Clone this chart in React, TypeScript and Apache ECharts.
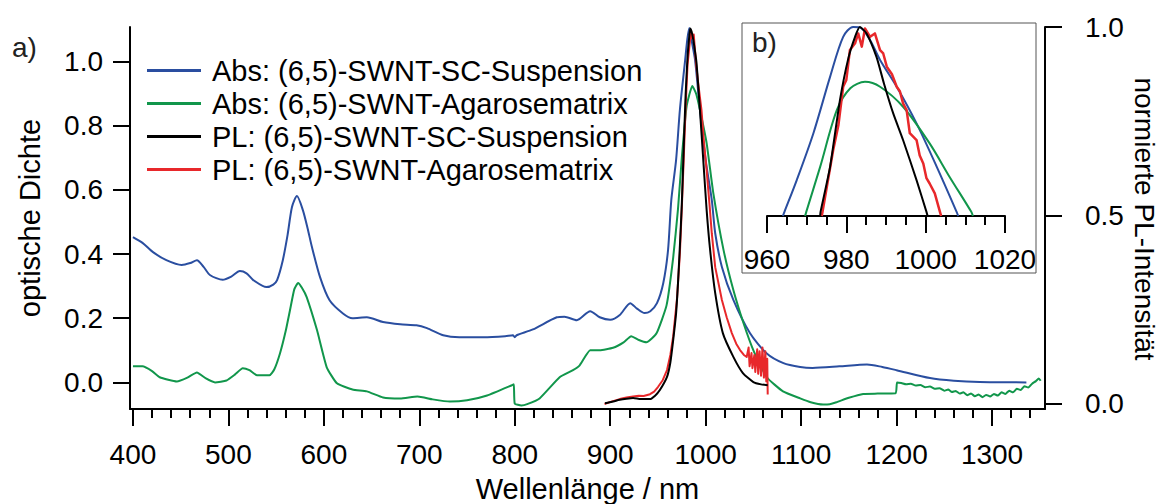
import React, { useEffect, useRef } from 'react';
import * as echarts from 'echarts';

const FONT = '"Liberation Sans", Arial, Helvetica, sans-serif';

const NAME_ABS_SC = 'Abs: (6,5)-SWNT-SC-Suspension';
const NAME_ABS_AG = 'Abs: (6,5)-SWNT-Agarosematrix';
const NAME_PL_SC = 'PL: (6,5)-SWNT-SC-Suspension';
const NAME_PL_AG = 'PL: (6,5)-SWNT-Agarosematrix';
const TITLE_RIGHT = 'normierte PL-Intensität';

const COLOR_BLUE = '#2a4ea0';
const COLOR_GREEN = '#11964b';
const COLOR_BLACK = '#000000';
const COLOR_RED = '#e8282b';

// tick positions / labels
const xMajorTicks = [400, 500, 600, 700, 800, 900, 1000, 1100, 1200, 1300];
const xMinorTicks = [
  420, 440, 460, 480, 520, 540, 560, 580, 620, 640, 660, 680, 720, 740, 760, 780,
  820, 840, 860, 880, 920, 940, 960, 980, 1020, 1040, 1060, 1080, 1120, 1140, 1160, 1180,
  1220, 1240, 1260, 1280, 1320, 1340,
];
const yLeftTicks = [0, 0.2, 0.4, 0.6, 0.8, 1.0];
const yRightTicks = [0, 0.5, 1.0];

// main plot: absorbance (optische Dichte)
const absSC: [number, number][] = [
  [400, 0.453], [410, 0.435], [421, 0.406], [435, 0.381], [451, 0.366], [460, 0.372], [467, 0.381],
  [474, 0.36], [481, 0.334], [494, 0.32], [503, 0.33], [512, 0.347], [519, 0.34], [526, 0.319],
  [540, 0.297], [547, 0.305], [551, 0.319], [557, 0.381], [562, 0.46], [566.6, 0.547], [571.8, 0.581],
  [578, 0.537], [583, 0.48], [587.5, 0.422], [596, 0.328], [606, 0.256], [620, 0.215], [630, 0.2],
  [645, 0.203], [662, 0.188], [680, 0.181], [697, 0.178], [708, 0.169], [725, 0.147], [742, 0.141],
  [767, 0.141], [790, 0.144], [798, 0.147], [800, 0.141], [802, 0.147], [819, 0.165], [844, 0.203],
  [852, 0.205], [865, 0.194], [879, 0.222], [889, 0.203], [900, 0.195], [910, 0.21], [921, 0.247],
  [928, 0.23], [936, 0.216], [942, 0.222], [949, 0.247], [955.6, 0.31], [960.6, 0.413], [964, 0.569],
  [969, 0.693], [973, 0.85], [978.5, 1.005], [980.8, 1.07], [982.9, 1.105], [985, 1.07], [988.9, 1.005],
  [994, 0.85], [1000, 0.693], [1006.4, 0.569], [1010, 0.465], [1017, 0.36], [1029, 0.257],
  [1046.5, 0.153], [1064, 0.09], [1081.5, 0.06], [1099, 0.048], [1112, 0.045], [1140, 0.05],
  [1169, 0.056], [1185, 0.048], [1200, 0.038], [1235, 0.0135], [1260, 0.005], [1287, 0.001], [1336, 0],
];

const absAgarose: [number, number][] = [
  [400, 0.05], [410, 0.05], [420, 0.035], [428, 0.016], [446, 0.003], [457, 0.015], [467, 0.031],
  [476, 0.013], [486, 0.0], [498, 0.006], [507, 0.025], [515, 0.044], [522, 0.038], [530, 0.022],
  [543, 0.022], [548, 0.04], [554, 0.09], [560, 0.16], [564.5, 0.225], [569, 0.29], [573, 0.31],
  [577, 0.295], [582, 0.266], [592.8, 0.163], [603, 0.047], [613.7, -0.003], [630, -0.022],
  [645, -0.028], [662, -0.047], [680, -0.05], [698, -0.044], [714, -0.053], [732, -0.06], [750, -0.056],
  [771, -0.041], [797, -0.009], [799, -0.006], [800, -0.066], [807, -0.072], [813, -0.068], [826, -0.05],
  [847, 0.016], [861, 0.038], [868, 0.053], [879, 0.1], [889, 0.1], [903, 0.108], [914, 0.125],
  [922, 0.144], [930, 0.132], [938, 0.125], [948.5, 0.153], [959, 0.24], [966, 0.39], [971, 0.54],
  [975, 0.7], [980, 0.86], [986, 0.924], [990, 0.9], [994, 0.85], [1001, 0.746], [1008, 0.59],
  [1018.7, 0.413], [1029, 0.288], [1039.6, 0.185], [1050, 0.1], [1064, 0.016], [1081, -0.028],
  [1099, -0.05], [1110, -0.062], [1123, -0.069], [1130, -0.068], [1137, -0.062], [1150, -0.048],
  [1165, -0.036], [1180, -0.035], [1199, -0.034], [1200.5, 0.0], [1205, -0.002], [1210, -0.006],
  [1215, -0.004], [1220, -0.01], [1225, -0.008], [1230, -0.015], [1235, -0.013], [1240, -0.02],
  [1245, -0.018], [1250, -0.026], [1254, -0.022], [1258, -0.03], [1262, -0.027], [1266, -0.035],
  [1270, -0.031], [1274, -0.04], [1278, -0.035], [1282, -0.043], [1286, -0.038], [1290, -0.046],
  [1294, -0.039], [1298, -0.044], [1302, -0.036], [1306, -0.041], [1310, -0.031], [1314, -0.036],
  [1318, -0.026], [1322, -0.031], [1326, -0.02], [1330, -0.024], [1334, -0.012], [1338, -0.016],
  [1342, -0.004], [1346, 0.004], [1349, 0.012], [1351, 0.005],
];

// main plot: photoluminescence (normierte PL-Intensität)
const plSC: [number, number][] = [
  [894.5, 0.002], [902, 0.006], [910, 0.011], [917, 0.014], [924, 0.016], [932, 0.013], [941.7, 0.013],
  [947, 0.022], [952, 0.037], [959.5, 0.072], [963, 0.11], [966, 0.17], [969, 0.24], [971, 0.32],
  [973, 0.42], [975, 0.53], [977, 0.68], [979, 0.82], [981, 0.92], [983, 0.98], [984, 0.996],
  [986, 0.98], [988, 0.95], [990.4, 0.905], [994, 0.78], [997.5, 0.647], [1001, 0.515], [1004.6, 0.41],
  [1010, 0.294], [1018, 0.188], [1029, 0.125], [1039, 0.082], [1050, 0.058], [1058, 0.052], [1065, 0.05],
];

const plAgarose: [number, number][] = [
  [894, 0.0], [902, 0.007], [910, 0.013], [917, 0.017], [924, 0.02], [930, 0.022], [935, 0.021],
  [941.7, 0.026], [946, 0.033], [950, 0.045], [955, 0.063], [959.5, 0.09], [963, 0.13], [966, 0.18],
  [970, 0.28], [973, 0.4], [975, 0.52], [977, 0.65], [979.2, 0.8], [981, 0.9], [983, 0.95],
  [984.7, 0.99], [986, 0.97], [987.5, 0.98], [990, 0.9], [992.7, 0.84], [995.6, 0.78], [998, 0.7],
  [1001, 0.62], [1004, 0.53], [1006.4, 0.453], [1010, 0.363], [1017, 0.276], [1022, 0.23],
  [1027.4, 0.188], [1032, 0.16], [1036, 0.143], [1040, 0.13], [1043, 0.125], [1045, 0.15], [1046, 0.1],
  [1048, 0.135], [1049, 0.095], [1051, 0.13], [1052, 0.085], [1054, 0.145], [1055, 0.08],
  [1056.5, 0.14], [1058, 0.075], [1059.5, 0.15], [1061, 0.07], [1062.5, 0.14], [1063.5, 0.06],
  [1064.5, 0.12], [1065, 0.025],
];

// inset b): normalised spectra around the E11 peak
const insetAbsSC: [number, number][] = [
  [964, 0.5], [964.4, 0.511], [967.5, 0.595], [971.7, 0.719], [975.9, 0.868], [979.2, 0.974],
  [981.7, 1.0], [983.4, 0.999], [986, 0.965], [988.5, 0.913], [992.7, 0.842], [997.7, 0.745],
  [1002.8, 0.63], [1007.8, 0.511], [1008.2, 0.5],
];
const insetAbsAgarose: [number, number][] = [
  [969.6, 0.5], [969.9, 0.511], [973.4, 0.63], [977.6, 0.78], [981, 0.838], [984.7, 0.855],
  [988.5, 0.842], [994.3, 0.789], [1001, 0.692], [1006, 0.604], [1011.5, 0.511], [1011.9, 0.5],
];
const insetPlSC: [number, number][] = [
  [973.4, 0.5], [973.5, 0.511], [975.9, 0.63], [978.4, 0.807], [980.5, 0.917], [982.2, 0.974],
  [983.4, 1.0], [985.1, 0.983], [987.6, 0.921], [989.5, 0.85], [991.8, 0.772], [994.3, 0.701],
  [997.7, 0.595], [1000.2, 0.511], [1000.5, 0.5],
];
const insetPlAgarose: [number, number][] = [
  [973.8, 0.5], [974, 0.511], [976.7, 0.675], [978, 0.74], [979.2, 0.842], [980, 0.86], [980.9, 0.939],
  [982.2, 0.957], [983, 0.983], [983.9, 0.948], [984.7, 0.996], [986, 0.974], [987.2, 0.983],
  [988.5, 0.939], [989.3, 0.93], [990.2, 0.895], [991.5, 0.875], [992.7, 0.842], [993.5, 0.83],
  [994.3, 0.798], [995.2, 0.78], [996, 0.719], [997.7, 0.701], [998.5, 0.66], [999.4, 0.639],
  [1000.2, 0.6], [1001, 0.586], [1002.3, 0.56], [1003.6, 0.511], [1003.9, 0.5],
];

const axisLineStyle = { color: '#000', width: 2 };
const labelStyle = { color: '#000', fontSize: 28, fontFamily: FONT };
const titleStyle = { color: '#000', fontSize: 29, fontFamily: FONT };

function lineSeries(name: string, data: [number, number][], color: string, xIdx: number, yIdx: number, smooth: number | boolean, width = 2) {
  return {
    type: 'line',
    name,
    data,
    xAxisIndex: xIdx,
    yAxisIndex: yIdx,
    showSymbol: false,
    symbol: 'none',
    smooth,
    clip: true,
    color,
    lineStyle: { color, width, join: 'round' },
  };
}

export default function App() {
  const ref = useRef<HTMLDivElement>(null);
  useEffect(() => {
    const chart = echarts.init(ref.current!, null, { renderer: 'svg' });
    const option = {
      animation: false,
      backgroundColor: '#ffffff',
      textStyle: { fontFamily: FONT },
      legend: {
        show: true,
        left: 147,
        top: 56,
        orient: 'vertical',
        padding: 0,
        itemGap: 4,
        itemWidth: 54,
        itemHeight: 3,
        icon: 'rect',
        data: [NAME_ABS_SC, NAME_ABS_AG, NAME_PL_SC, NAME_PL_AG],
        textStyle: { color: '#000', fontSize: 29, fontFamily: FONT, padding: [0, 0, 0, 6] },
      },
      grid: [
        { left: 130, top: 27, width: 915, height: 382, outerBoundsMode: 'none', containLabel: false },
        { left: 130, top: 27, width: 915, height: 382, outerBoundsMode: 'none', containLabel: false },
        { left: 767, top: 27, width: 238, height: 189, outerBoundsMode: 'none', containLabel: false },
      ],
      xAxis: [
        {
          type: 'value', gridIndex: 0, min: 396.9, max: 1355.5, position: 'bottom',
          axisLine: { show: true, onZero: false, lineStyle: axisLineStyle },
          axisTick: { show: true, length: 17, customValues: xMajorTicks, lineStyle: axisLineStyle },
          axisLabel: { ...labelStyle, margin: 31, customValues: xMajorTicks, formatter: (v: number) => String(v) },
          splitLine: { show: false },
          name: 'Wellenlänge / nm', nameLocation: 'middle', nameGap: 65,
          nameTextStyle: { ...titleStyle },
        },
        {
          type: 'value', gridIndex: 1, min: 396.9, max: 1355.5, position: 'bottom',
          axisLine: { show: false, onZero: false },
          axisTick: { show: true, length: 9, customValues: xMinorTicks, lineStyle: axisLineStyle },
          axisLabel: { show: false },
          splitLine: { show: false },
        },
        {
          type: 'value', gridIndex: 2, min: 960, max: 1020, interval: 20, position: 'bottom',
          axisLine: { show: true, onZero: false, lineStyle: axisLineStyle },
          axisTick: { show: true, length: 17, lineStyle: axisLineStyle },
          minorTick: { show: true, splitNumber: 4, length: 9, lineStyle: axisLineStyle },
          axisLabel: { ...labelStyle, margin: 29, formatter: (v: number) => String(v) },
          splitLine: { show: false },
          minorSplitLine: { show: false },
        },
      ],
      yAxis: [
        {
          type: 'value', gridIndex: 0, position: 'left', min: -0.083, max: 1.108,
          axisLine: { show: true, onZero: false, lineStyle: axisLineStyle },
          axisTick: { show: true, length: 17, customValues: yLeftTicks, lineStyle: axisLineStyle },
          axisLabel: { ...labelStyle, margin: 27, customValues: yLeftTicks, formatter: (v: number) => v.toFixed(1) },
          splitLine: { show: false },
          name: 'optische Dichte', nameLocation: 'middle', nameGap: 86,
          nameTextStyle: { ...titleStyle },
        },
        {
          type: 'value', gridIndex: 0, position: 'right', min: -0.0133, max: 1.0,
          axisLine: { show: true, onZero: false, lineStyle: axisLineStyle },
          axisTick: { show: true, length: 17, customValues: yRightTicks, lineStyle: axisLineStyle },
          axisLabel: { ...labelStyle, margin: 40, customValues: yRightTicks, formatter: (v: number) => v.toFixed(1) },
          splitLine: { show: false },
        },
        { type: 'value', gridIndex: 1, min: 0, max: 1, show: false },
        { type: 'value', gridIndex: 2, min: 0.5, max: 1.0, show: false },
      ],
      graphic: [
        {
          type: 'rect', z: 10, silent: true,
          shape: { x: 742, y: 23, width: 294, height: 250 },
          style: { fill: 'none', stroke: '#555', lineWidth: 1 },
        },
        {
          type: 'text', x: 12, y: 47.5, z: 10,
          style: { text: 'a)', fill: '#222', fontSize: 28, fontFamily: FONT, align: 'left', verticalAlign: 'middle' },
        },
        {
          type: 'text', x: 752, y: 42, z: 10,
          style: { text: 'b)', fill: '#222', fontSize: 28, fontFamily: FONT, align: 'left', verticalAlign: 'middle' },
        },
        {
          type: 'text', x: 1144, y: 219, z: 10, rotation: -Math.PI / 2,
          style: { text: TITLE_RIGHT, fill: '#000', fontSize: 28, fontFamily: FONT, align: 'center', verticalAlign: 'middle' },
        },
      ],
      series: [
        lineSeries(NAME_ABS_SC, absSC, COLOR_BLUE, 0, 0, 0.25),
        lineSeries(NAME_ABS_AG, absAgarose, COLOR_GREEN, 0, 0, 0.15),
        lineSeries(NAME_PL_AG, plAgarose, COLOR_RED, 0, 1, false),
        lineSeries(NAME_PL_SC, plSC, COLOR_BLACK, 0, 1, 0.2),
        lineSeries(NAME_ABS_SC, insetAbsSC, COLOR_BLUE, 2, 3, 0.3),
        lineSeries(NAME_ABS_AG, insetAbsAgarose, COLOR_GREEN, 2, 3, 0.3),
        lineSeries(NAME_PL_AG, insetPlAgarose, COLOR_RED, 2, 3, false, 2.5),
        lineSeries(NAME_PL_SC, insetPlSC, COLOR_BLACK, 2, 3, 0.2),
      ],
    };
    chart.setOption(option as any);
    return () => chart.dispose();
  }, []);
  return <div ref={ref} style={{ position: 'absolute', left: 0, top: 0, width: 1160, height: 504 }} />;
}
